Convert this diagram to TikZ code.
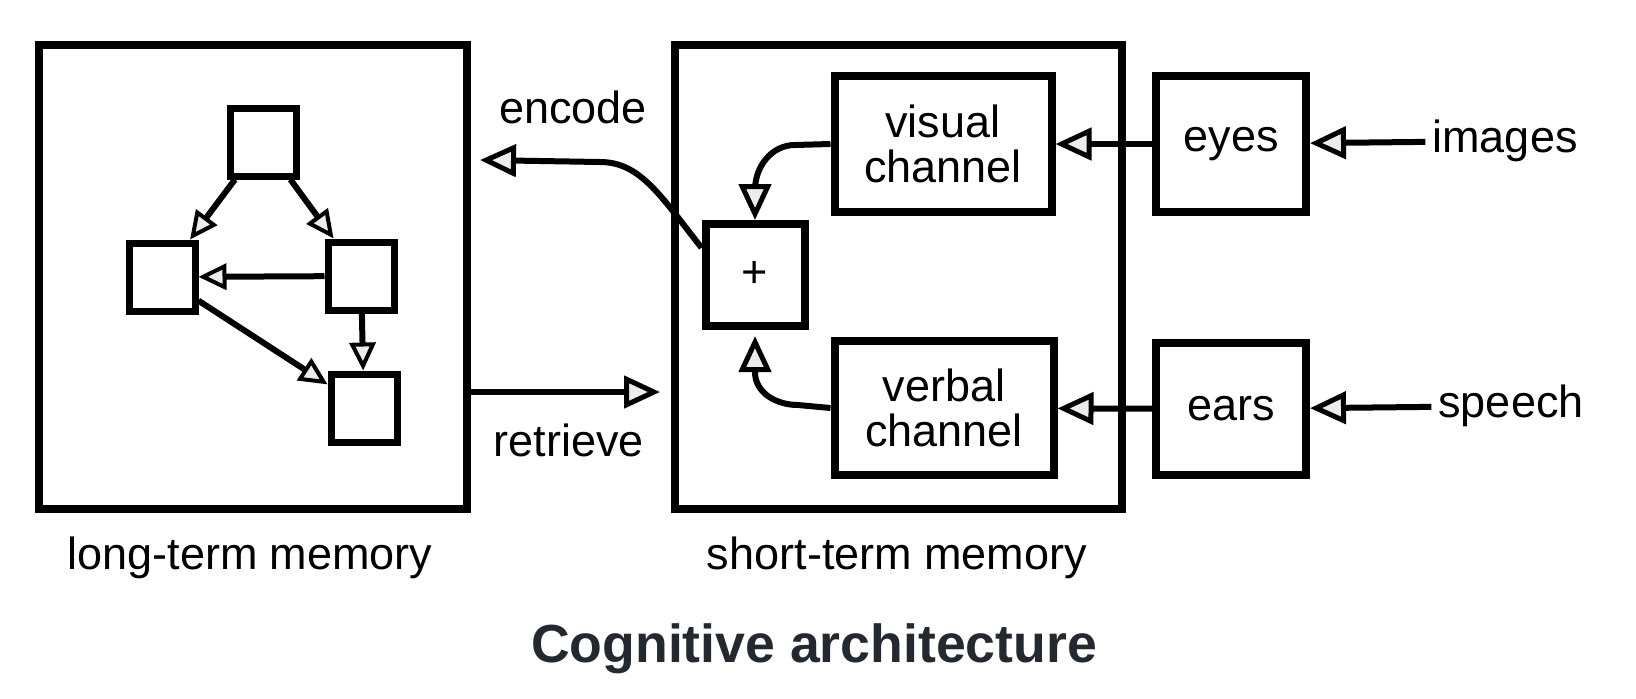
\documentclass[tikz,border=0pt]{standalone}
\usepackage{fontspec}
\setmainfont{Liberation Sans}
\usetikzlibrary{arrows.meta, positioning}
\definecolor{titlegray}{RGB}{36,41,47}
\tikzset{
>={Triangle[fill=gray!15, length=18pt, width=16pt, line width=2.5pt]}, % open heads with a light fill
every node/.style={font=\fontsize{22.5}{22.5}\selectfont},
frame/.style={draw, line width=4pt, inner sep=0pt}, % the two memory boxes
box/.style={draw, line width=4pt, align=center, inner sep=0pt},
item/.style={draw, line width=3.5pt, minimum width=33pt, minimum height=34pt}, % little boxes in long-term memory
flow/.style={->, line width=3pt},
link/.style={->, line width=3pt, >={Triangle[fill=gray!15, length=14pt, width=13pt, line width=2pt]}},
}

\begin{document}
\begin{tikzpicture}[x=0.5pt, y=-0.5pt] % one unit is one pixel, y grows downwards
        \useasboundingbox (0,0) rectangle (1636,698);

        \node[frame, minimum width=214pt, minimum height=232pt] (ltm) at (253,277) {};
        \node[frame, minimum width=223.5pt, minimum height=232pt] (stm) at (898,277) {};

        \node[item] (n1) at (263,142) {};
        \node[item] (n2) at (162,277) {};
        \node[item] (n3) at (361,276) {};
        \node[item] (n4) at (364,408) {};

        \node[box, minimum width=108.5pt, minimum height=68pt] (vis) at (943,144) {visual\\channel};
        \node[box, minimum width=109.5pt, minimum height=67pt] (verb) at (944,408) {verbal\\channel};
        \node[box, minimum width=49.5pt, minimum height=51pt] (sum) at (755,275) {+};
        \node[box, minimum width=75pt, minimum height=68pt] (eyes) at (1231,144) {eyes};
        \node[box, minimum width=75pt, minimum height=66pt] (ears) at (1231,409) {ears};

        \node (images) at (1505,141) {images};
        \node (speech) at (1511,406) {speech};
        \node (enc) at (573,107) {encode};
        \node (ret) at (569,440) {retrieve};
        \node (ltmlabel) at (250,558) {long-term memory};
        \node (stmlabel) at (897,558) {short-term memory};
        \node[font=\bfseries\fontsize{26.8}{30}\selectfont, text=titlegray] (title) at (814,649) {Cognitive architecture};

        \coordinate (encEnd) at (480,160);
        \coordinate (retEnd) at (660,392);

        \path[link] (n1) edge (n2)
        (n1) edge (n3)
        (n3) edge (n2)
        (n3) edge (n4)
        (n2) edge (n4);

        \path[flow] (eyes) edge (vis)
        (ears) edge (verb)
        (images) edge (eyes)
        (speech) edge (ears)
        (ltm.east |- retEnd) edge (retEnd);

        \draw[flow] (sum.153) .. controls (660,195) and (640,162) .. (600,162) -- (encEnd);
        \draw[flow] (vis.west) -- (795,145) to[out=180, in=90] (755,190) -- (sum.north);
        \draw[flow, shorten >=3pt] (verb.west) -- (798,405) to[out=180, in=-90] (755,372) -- (sum.south);
      \end{tikzpicture}
\end{document}
